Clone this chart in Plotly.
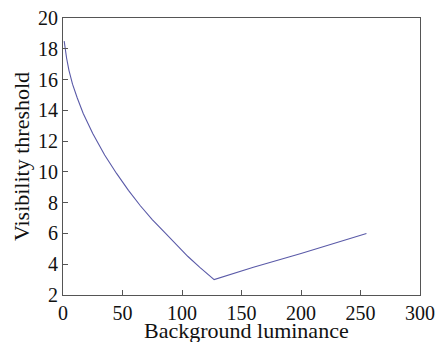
import plotly.graph_objects as go

luminance = [1, 2, 3, 5, 8, 12, 17, 25, 35, 45, 55, 65, 75, 85, 95, 105, 115, 121, 127, 160, 200, 255]
threshold = [18.5, 17.9, 17.4, 16.6, 15.7, 14.8, 13.8, 12.5, 11.1, 9.9, 8.8, 7.8, 6.9, 6.1, 5.3, 4.5, 3.8, 3.4, 3.0, 3.8, 4.7, 6.0]

x_ticks = [0, 50, 100, 150, 200, 250, 300]
y_ticks = [2, 4, 6, 8, 10, 12, 14, 16, 18, 20]

font_family = "Liberation Serif, DejaVu Serif, serif"

fig = go.Figure()
fig.add_trace(go.Scatter(
    x=luminance, y=threshold, mode="lines",
    line=dict(color="#5a5aa8", width=1.1),
    showlegend=False, hoverinfo="skip"))

axis_common = dict(
    showgrid=False, zeroline=False, showline=True, linecolor="#555555", linewidth=1.2,
    mirror=True, ticks="inside", ticklen=5, tickcolor="#555555", automargin=False,
    ticklabeloverflow="allow",
    tickfont=dict(family=font_family, size=20, color="#111111"),
)
fig.update_xaxes(range=[0, 300], tickvals=x_ticks, ticktext=[str(v) for v in x_ticks],
                 **axis_common)
fig.update_yaxes(range=[2, 20], tickvals=y_ticks, ticktext=[str(v) for v in y_ticks],
                 title=dict(text="Visibility threshold", font=dict(family=font_family, size=22, color="#111111"), standoff=2),
                 **axis_common)
fig.add_annotation(
    text="Background luminance", xref="paper", yref="paper", x=0.515, y=-47 / 278,
    xanchor="center", yanchor="bottom", yshift=-3, showarrow=False,
    font=dict(family=font_family, size=22, color="#111111"))
fig.update_layout(
    width=436, height=334, margin=dict(l=55, r=24, t=10, b=47, autoexpand=False),
    paper_bgcolor="white", plot_bgcolor="white",
)
fig.write_html("out.html")
